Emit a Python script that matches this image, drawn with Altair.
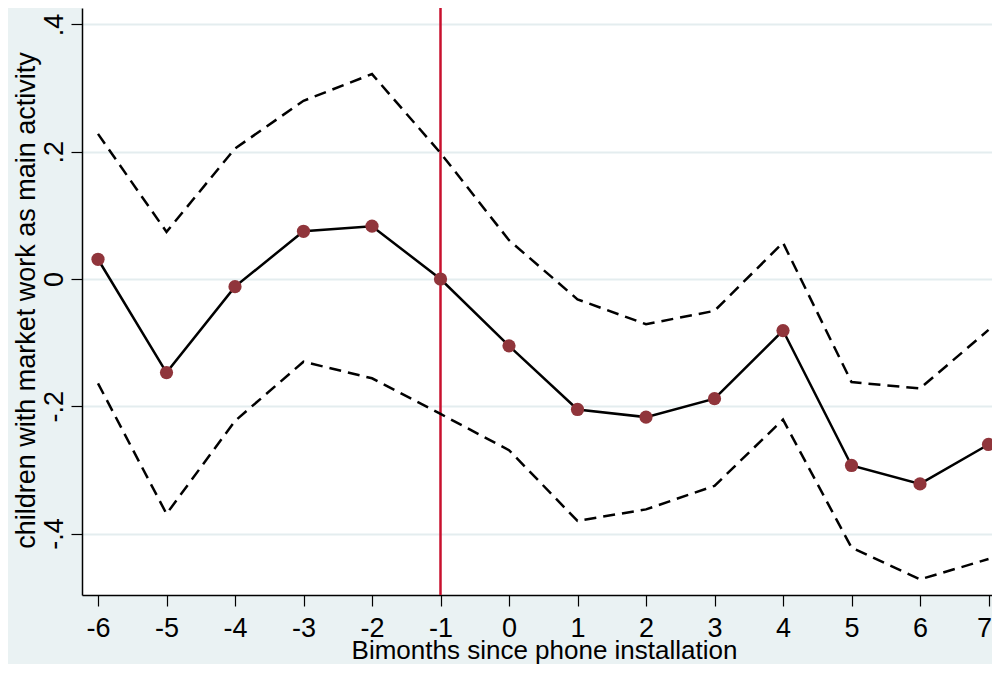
import altair as alt
import pandas as pd

# ---- data ----
bimonths = [-6, -5, -4, -3, -2, -1, 0, 1, 2, 3, 4, 5, 6, 7]
estimate = [0.031, -0.147, -0.012, 0.075, 0.083, 0.000, -0.105, -0.205, -0.217, -0.188, -0.081, -0.293, -0.322, -0.260]
upper_ci = [0.228, 0.074, 0.205, 0.280, 0.322, 0.198, 0.061, -0.032, -0.071, -0.050, 0.057, -0.162, -0.172, -0.080]
lower_ci = [-0.164, -0.369, -0.223, -0.130, -0.156, -0.212, -0.269, -0.380, -0.362, -0.325, -0.221, -0.422, -0.472, -0.440]
event_bimonth = [-1]
y_ticks = [-0.4, -0.2, 0.0, 0.2, 0.4]

df = pd.DataFrame({"t": bimonths, "est": estimate, "hi": upper_ci, "lo": lower_ci})
ev = pd.DataFrame({"t": event_bimonth})

FONT = "Liberation Sans"
LAST = bimonths[-1]

x_scale = alt.Scale(domain=[-6.2336, 7.051], nice=False, zero=False)
y_scale = alt.Scale(domain=[-0.4965, 0.4258], nice=False, zero=False)

x_axis = alt.Axis(
    values=bimonths,
    labelExpr="(datum.value < 0 ? '-' : '') + abs(datum.value)",
    title="Bimonths since phone installation",
    grid=False,
    labelFont=FONT, labelFontSize=27, labelColor="black",
    labelBaseline="alphabetic", labelPadding=30,
    labelAlign={"condition": {"test": f"datum.value == {LAST}", "value": "right"}, "value": "center"},
    labelOffset={"condition": {"test": f"datum.value == {LAST}", "value": 3}, "value": 0},
    tickColor="black", tickSize=11, tickWidth=1.2,
    domainColor="black", domainWidth=1.5,
    titleFont=FONT, titleFontSize=26, titleFontWeight="normal", titleColor="black",
    titleX=462, titleY=63, titleBaseline="alphabetic", titleAlign="center",
)

y_axis = alt.Axis(
    values=y_ticks,
    labelExpr="datum.value == 0 ? '0' : (datum.value < 0 ? '-' : '') + '.' + round(abs(datum.value) * 10)",
    title="children with market work as main activity",
    grid=True, gridColor="#E4EDEF", gridWidth=2,
    labelFont=FONT, labelFontSize=27, labelColor="black",
    labelAngle=270, labelAlign="center", labelBaseline="alphabetic", labelPadding=9,
    tickColor="black", tickSize=11, tickWidth=1.2,
    domainColor="black", domainWidth=1.5,
    titleFont=FONT, titleFontSize=27, titleFontWeight="normal", titleColor="black",
    titleAngle=270, titleX=-48, titleY=292, titleBaseline="alphabetic", titleAlign="center",
)

X = alt.X("t:Q", scale=x_scale, axis=x_axis)

rule = alt.Chart(ev).mark_rule(color="#C8102E", strokeWidth=2.5).encode(x=X)

hi_line = alt.Chart(df).mark_line(color="black", strokeWidth=2.5, strokeDash=[12, 7]).encode(
    x=X, y=alt.Y("hi:Q", scale=y_scale, axis=y_axis)
)
lo_line = alt.Chart(df).mark_line(color="black", strokeWidth=2.5, strokeDash=[12, 7]).encode(
    x=X, y=alt.Y("lo:Q", scale=y_scale, axis=y_axis)
)
est_line = alt.Chart(df).mark_line(color="black", strokeWidth=2.5).encode(
    x=X, y=alt.Y("est:Q", scale=y_scale, axis=y_axis)
)
est_pts = alt.Chart(df).mark_point(filled=True, color="#90353B", opacity=1, size=175).encode(
    x=X, y=alt.Y("est:Q", scale=y_scale, axis=y_axis)
)

chart = (
    alt.layer(rule, hi_line, lo_line, est_line, est_pts)
    .properties(
        width=910,
        height=587,
        autosize=alt.AutoSizeParams(type="none"),
        padding={"left": 74, "top": 0, "right": 0, "bottom": 69},
        background="#EAF2F3",
    )
    .configure_view(fill="white", stroke=None)
)

chart.save("out.html", embed_options={"renderer": "svg", "actions": False})
